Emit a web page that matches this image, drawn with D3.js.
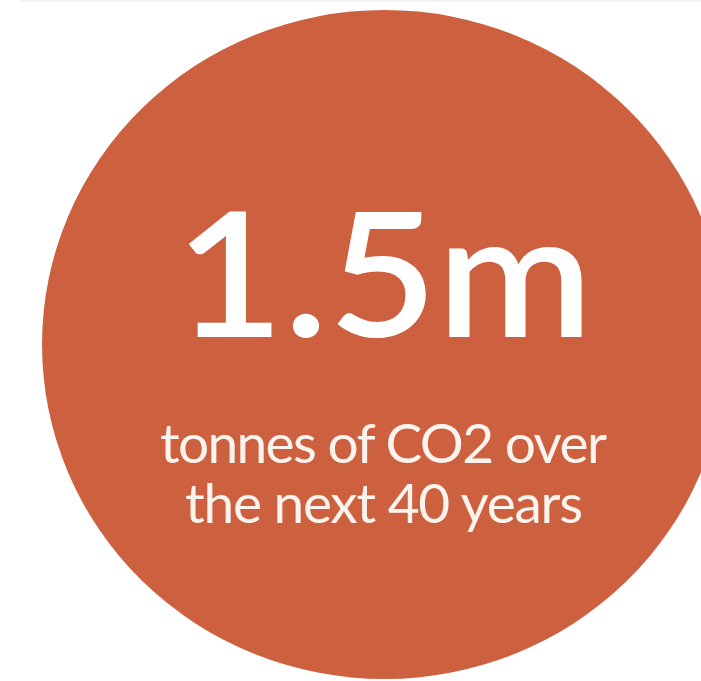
<!DOCTYPE html>
<html>
<head>
<meta charset="utf-8">
<script src="https://cdn.jsdelivr.net/npm/d3@7"></script>
<style>
  html, body { margin: 0; padding: 0; background: #ffffff; }
  svg { display: block; }
</style>
</head>
<body>
<script>
// Data
const headlineValue = ["1.5m"];
const captionLines = ["tonnes of CO2 over", "the next 40 years"];
const stat = [{ label: "CO2 saved", value: 1.5 }];

const W = 701, H = 681;
const svg = d3.select("body").append("svg").attr("width", W).attr("height", H);

// faint top border
svg.append("rect").attr("x", 20).attr("y", 0).attr("width", W - 20).attr("height", 2).attr("fill", "#f3f3f3");

// scales for the bubble size
const rx = d3.scaleSqrt().domain([0, 1.5]).range([0, 342.5]);
const ry = d3.scaleSqrt().domain([0, 1.5]).range([0, 334.5]);

svg.selectAll("ellipse.bubble").data(stat).join("ellipse")
  .attr("class", "bubble")
  .attr("cx", 384.5).attr("cy", 344.5)
  .attr("rx", d => rx(d.value)).attr("ry", d => ry(d.value))
  .attr("fill", "#cd603e");

svg.selectAll("text.headline").data(headlineValue).join("text")
  .attr("class", "headline")
  .attr("x", 384).attr("y", 337)
  .attr("text-anchor", "middle")
  .attr("font-family", "Lato, sans-serif")
  .attr("font-weight", 600)
  .attr("font-size", 173)
  .attr("fill", "#ffffff")
  .attr("textLength", 418)
  .attr("lengthAdjust", "spacingAndGlyphs")
  .text(d => d);

const capX = [383.5, 384];
const capW = [447, 398];
svg.selectAll("text.caption").data(captionLines).join("text")
  .attr("class", "caption")
  .attr("x", (d, i) => capX[i])
  .attr("y", (d, i) => 463 + i * 60)
  .attr("text-anchor", "middle")
  .attr("font-family", "Lato, sans-serif")
  .attr("font-size", 55)
  .attr("fill", "#fbf3ee")
  .attr("textLength", (d, i) => capW[i])
  .attr("lengthAdjust", "spacing")
  .text(d => d);
</script>
</body>
</html>
